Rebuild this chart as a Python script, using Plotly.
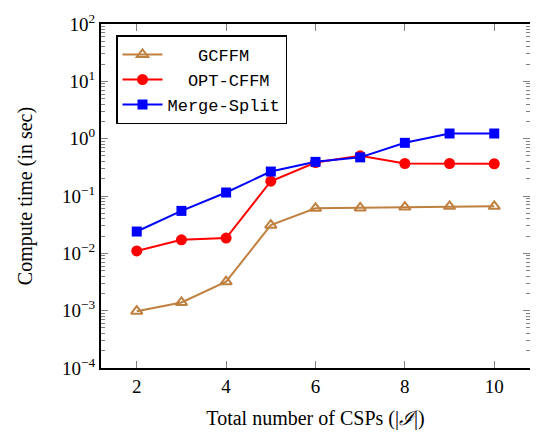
import plotly.graph_objects as go

csps = [2, 3, 4, 5, 6, 7, 8, 9, 10]
gcffm = [0.00098, 0.00139, 0.0032, 0.031, 0.061, 0.062, 0.064, 0.066, 0.066]
opt_cffm = [0.011, 0.0172, 0.0185, 0.181, 0.384, 0.503, 0.369, 0.369, 0.365]
merge_split = [0.024, 0.055, 0.115, 0.267, 0.394, 0.472, 0.846, 1.23, 1.23]

names = ["GCFFM", "OPT-CFFM", "Merge-Split"]
y_tickvals = [1e-4, 1e-3, 1e-2, 1e-1, 1e0, 1e1, 1e2]
y_ticktext = ["10<sup>−4</sup>", "10<sup>−3</sup>", "10<sup>−2</sup>", "10<sup>−1</sup>",
              "10<sup>0</sup>", "10<sup>1</sup>", "10<sup>2</sup>"]
x_tickvals = [2, 4, 6, 8, 10]

NB = "\u00a0"
fig = go.Figure()
fig.add_trace(go.Scatter(
    x=csps, y=gcffm, mode="lines+markers", name=NB * 3 + names[0],
    line=dict(color="#BF8040", width=2),
    marker=dict(symbol="triangle-up-open", size=10, color="#BF8040", line=dict(width=2))))
fig.add_trace(go.Scatter(
    x=csps, y=opt_cffm, mode="lines+markers", name=NB * 2 + names[1],
    line=dict(color="#FF0000", width=2),
    marker=dict(symbol="circle", size=11, color="#FF0000")))
fig.add_trace(go.Scatter(
    x=csps, y=merge_split, mode="lines+markers", name=names[2],
    line=dict(color="#0000FF", width=2),
    marker=dict(symbol="square", size=10, color="#0000FF")))

minor_y = [m * 10 ** e for e in range(-4, 2) for m in range(2, 10)]

serif = "Liberation Serif"
fig.update_layout(
    width=530, height=424,
    margin=dict(l=93, r=8, t=3, b=64),
    paper_bgcolor="white", plot_bgcolor="white",
    font=dict(family=serif, size=18, color="black"),
    showlegend=True,
    legend=dict(
        x=0.035, y=0.967, xanchor="left", yanchor="top",
        bgcolor="white", bordercolor="black", borderwidth=1.5,
        font=dict(family="Liberation Mono", size=17, color="black"),
        itemwidth=40, tracegroupgap=0,
    ),
    xaxis=dict(
        range=[1.2, 10.8], tickvals=x_tickvals, ticks="inside", ticklen=7,
        tickcolor="gray", tickwidth=1, showgrid=False, zeroline=False,
        showline=True, linecolor="black", linewidth=2, mirror="allticks",
        title=dict(text="Total number of CSPs (|<i>ℐ</i>|)", standoff=15,
                   font=dict(family=serif, size=20)),
        tickfont=dict(family=serif, size=19),
    ),
    yaxis=dict(
        type="log", range=[-4, 2], tickvals=y_tickvals, ticktext=y_ticktext,
        ticks="inside", ticklen=7, tickcolor="gray", tickwidth=1,
        showgrid=False, zeroline=False, ticklabeloverflow="allow",
        showline=True, linecolor="black", linewidth=2, mirror="allticks",
        minor=dict(tickvals=minor_y, ticks="inside", ticklen=4, tickcolor="gray",
                   tickwidth=1, showgrid=False),
        title=dict(text="Compute time (in sec)", standoff=24,
                   font=dict(family=serif, size=20)),
        tickfont=dict(family=serif, size=19),
    ),
)

fig.write_html("out.html")
